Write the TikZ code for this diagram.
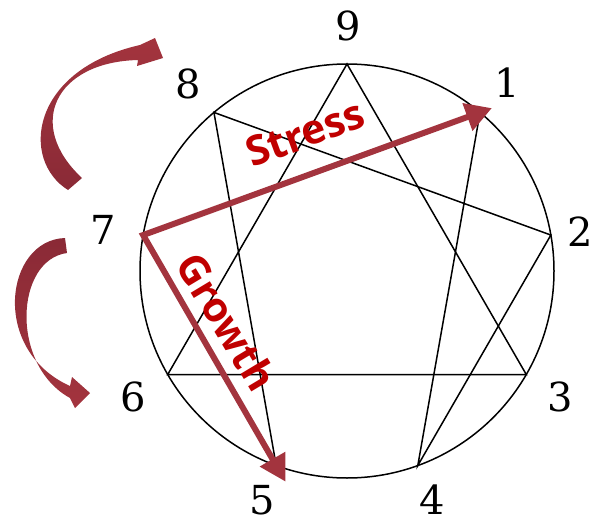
\documentclass[tikz,border=0pt]{standalone}
\usepackage{fontspec}
\usetikzlibrary{arrows.meta,calc}
\newfontfamily\numfont{DejaVu Serif}
\newfontfamily\labfont{Open Sans Bold}
\definecolor{arrowred}{RGB}{163,52,62}
\definecolor{arrowdark}{RGB}{138,42,54}
\definecolor{labred}{RGB}{192,0,0}
\begin{document}
\begin{tikzpicture}[x=1pt,y=-1pt,
  num/.style={font=\numfont\fontsize{40}{40}\selectfont,inner sep=0pt},
  lab/.style={font=\labfont\fontsize{41}{41}\selectfont,text=labred,inner sep=0pt},
  gram/.style={line width=1.5pt,black},
  bigarrow/.style={line width=6pt,arrowred,line join=miter,
    {Triangle[length=26pt,width=28pt]}-{Triangle[length=26pt,width=28pt]}},
  curvearrow/.style={top color=arrowred,bottom color=arrowdark}]
\useasboundingbox (0,0) rectangle (610,527);
\coordinate (c) at (347,271);
\path (c) ++(90:207pt) coordinate (p9);
\path (c) ++(50:207pt) coordinate (p1);
\path (c) ++(10:207pt) coordinate (p2);
\path (c) ++(-30:207pt) coordinate (p3);
\path (c) ++(-70:207pt) coordinate (p4);
\path (c) ++(-110:207pt) coordinate (p5);
\path (c) ++(-150:207pt) coordinate (p6);
\path (c) ++(170:207pt) coordinate (p7);
\path (c) ++(130:207pt) coordinate (p8);
% circle and figure
\draw[gram] (c) circle[radius=207pt];
\draw[gram,line join=miter] (p9) -- (p3) -- (p6) -- cycle;
\draw[gram,line join=miter] (p1) -- (p4) -- (p2) -- (p8) -- (p5) -- (p7) -- cycle;
% numbers
\node[num] (n9) at (348,26) {9};
\node[num] (n1) at (507,83) {1};
\node[num] (n2) at (580,232) {2};
\node[num] (n3) at (560,397) {3};
\node[num] (n4) at (432,500) {4};
\node[num] (n5) at (262,500) {5};
\node[num] (n6) at (133,397) {6};
\node[num] (n7) at (103,230) {7};
\node[num] (n8) at (188,84) {8};
% stress / growth arrows
\coordinate (e1) at ($(p7)!1.035!(p1)$);
\coordinate (e5) at ($(p7)!1.07!(p5)$);
\draw[bigarrow] (e1) -- (p7) -- (e5);
\node[lab,rotate=20] (stress) at (305,133) {Stress};
\node[lab,rotate=-59] (growth) at (227,322) {Growth};
% curved arrows
\shade[curvearrow]
  (68,190) .. controls (20,160) and (30,70) .. (140,45) -- (155,38) -- (163,58) -- (137,66) -- (138,60)
  .. controls (55,62) and (25,125) .. (82,178) -- cycle;
\shade[top color=arrowdark,bottom color=arrowred]
  (65,238) .. controls (5,240) and (-10,350) .. (70,386) -- (72,377) -- (90,393) -- (75,408) -- (70,398)
  .. controls (10,365) and (15,260) .. (67,253) -- cycle;
\end{tikzpicture}
\end{document}
